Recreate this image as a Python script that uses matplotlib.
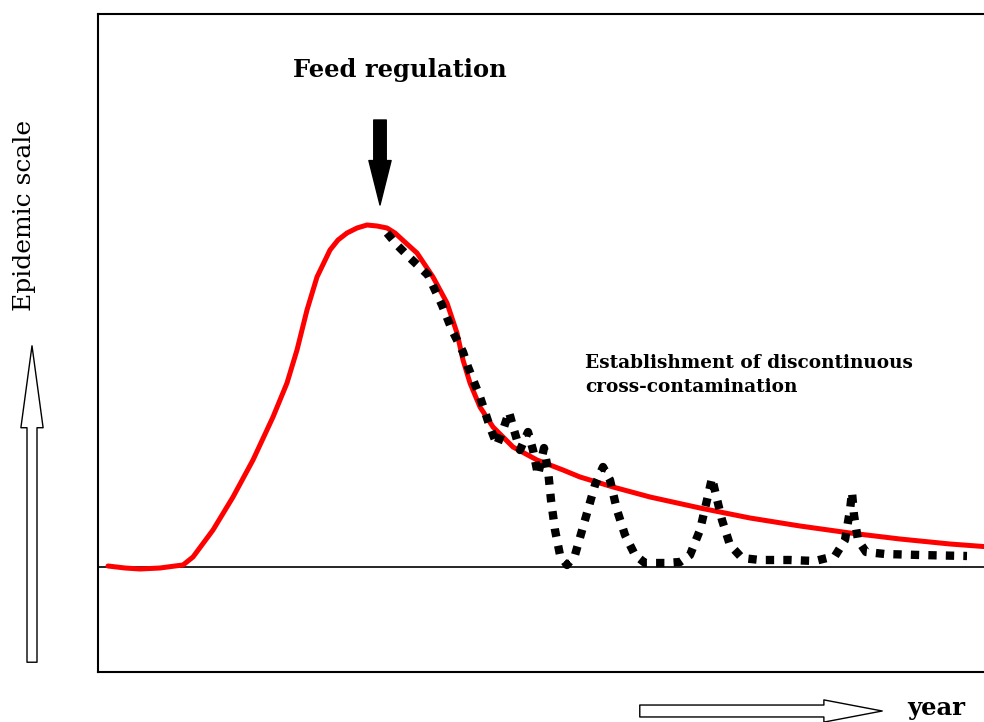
import matplotlib.pyplot as plt
from matplotlib.patches import FancyArrowPatch

# red curve: overall epidemic scale
red_x = [1.0, 2.7, 4.2, 6.2, 7.7, 8.5, 9.5, 11.5, 13.5, 15.5, 17.5, 18.9, 19.9, 20.9,
         21.9, 23.2, 24.0, 24.9, 25.9, 26.9, 27.9, 28.9, 29.7, 30.9, 31.9, 33.5, 34.9,
         35.9, 36.5, 37.2, 38.2, 39.5, 41.5, 43.9, 46.5, 48.2, 51.5, 55.2, 60.2, 65.2,
         70.2, 75.2, 80.2, 85.2, 89.2]
red_y = [0.1, -0.1, -0.2, -0.1, 0.1, 0.2, 1.0, 3.7, 7.0, 10.7, 15.0, 18.4, 21.7, 25.7,
         29.0, 31.7, 32.7, 33.4, 33.9, 34.2, 34.1, 33.9, 33.4, 32.3, 31.4, 29.0, 26.4,
         23.4, 20.7, 18.4, 16.0, 14.0, 12.0, 10.7, 9.7, 9.0, 8.0, 7.0, 5.9, 4.9,
         4.1, 3.4, 2.8, 2.3, 2.0]

# black dotted curve: after feed regulation
blk_x = [28.9, 30.0, 31.2, 33.0, 34.4, 35.4, 36.5, 37.0, 38.2, 39.2, 39.9, 40.5,
         41.1, 41.6, 42.2, 43.0, 43.5, 44.0, 44.6, 45.0, 45.3, 45.7, 46.2, 46.9, 47.7,
         48.7, 49.7, 50.5, 51.2, 51.9, 52.7, 53.7, 54.7, 56.7, 58.2, 59.2, 60.2, 60.9,
         61.4, 61.8, 62.4, 63.2, 64.4, 66.2, 69.2, 71.7, 73.7, 74.7, 75.2, 75.4, 75.6,
         76.0, 76.8, 78.7, 82.2, 86.9]
blk_y = [33.4, 32.1, 30.9, 29.2, 26.2, 23.7, 21.5, 20.0, 17.0, 14.0, 12.2, 13.7,
         15.5, 13.7, 11.7, 13.5, 11.7, 9.2, 11.9, 9.7, 6.7, 3.7, 1.2, 0.2, 1.2,
         4.7, 8.2, 10.0, 8.7, 5.7, 3.2, 1.2, 0.4, 0.4, 0.5, 1.2, 3.7, 6.7,
         8.9, 7.2, 4.7, 2.2, 0.9, 0.7, 0.7, 0.6, 1.1, 2.7, 5.7, 7.5, 5.2,
         2.7, 1.5, 1.3, 1.2, 1.1]

serif = 'DejaVu Serif'

fig = plt.figure(figsize=(9.84, 7.22), dpi=100)
ax = fig.add_axes([98 / 984, 50 / 722, 1 - 98 / 984, 658 / 722])
ax.set_xlim(0, 88.6)
ax.set_ylim(-10.5, 55.3)
ax.set_xticks([])
ax.set_yticks([])
ax.spines['right'].set_visible(False)
for s in ['left', 'top', 'bottom']:
    ax.spines[s].set_linewidth(1.5)

ax.axhline(0, color='black', lw=1.2)
ax.plot(red_x, red_y, color='red', lw=3.6, solid_capstyle='round',
        solid_joinstyle='round', zorder=3)
ax.plot(blk_x, blk_y, color='black', lw=6, linestyle=(0, (1, 1.1)),
        dash_capstyle='butt', zorder=4)

ax.text(30.2, 49.7, 'Feed regulation', family=serif, weight='bold', fontsize=17.4,
        ha='center', va='center')
ax.annotate('', xy=(28.2, 36.2), xytext=(28.2, 44.7),
            arrowprops=dict(arrowstyle='simple,head_length=1.6,head_width=0.8,tail_width=0.45',
                            mutation_scale=20, fc='black', ec='black',
                            shrinkA=0, shrinkB=0))
ax.text(48.7, 19.2, 'Establishment of discontinuous\ncross-contamination', family=serif,
        weight='bold', fontsize=13.3, ha='left', va='center', linespacing=1.4)

# hollow axis arrows
fig.add_artist(FancyArrowPatch(
    (32, 57), (32, 379), transform=None,
    arrowstyle='simple,head_length=2.95,head_width=0.8,tail_width=0.36',
    mutation_scale=20, fc='white', ec='black', lw=1))
fig.add_artist(FancyArrowPatch(
    (637, 11), (885, 11), transform=None,
    arrowstyle='simple,head_length=2.1,head_width=0.8,tail_width=0.43',
    mutation_scale=20, fc='white', ec='black', lw=1))

fig.text(25 / 984, 507 / 722, 'Epidemic scale', family=serif, fontsize=18,
         rotation=90, ha='center', va='center')
fig.text(936 / 984, 14 / 722, 'year', family=serif, weight='bold', fontsize=17.5,
         ha='center', va='center')

fig.savefig('out.png', dpi=100)
